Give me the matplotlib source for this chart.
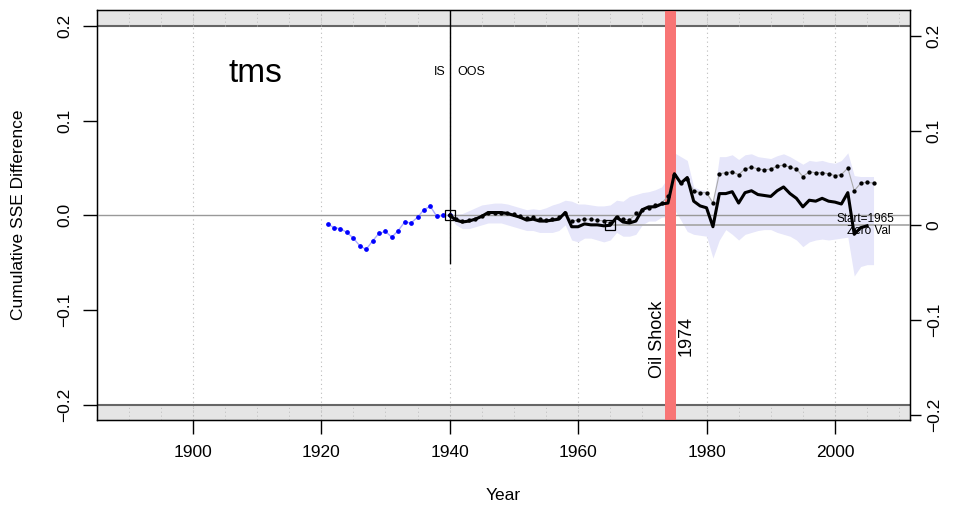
import numpy as np
import matplotlib
matplotlib.use("Agg")
import matplotlib.pyplot as plt

plt.rcParams['font.family'] = ['Liberation Sans', 'DejaVu Sans']

# ---------------- data ----------------
is_years = list(range(1921, 1941))
is_vals = [-0.009, -0.013, -0.014, -0.018, -0.024, -0.032, -0.036, -0.027, -0.019, -0.017,
           -0.023, -0.016, -0.007, -0.008, -0.002, 0.006, 0.0095, -0.001, 0.000, 0.000]

oos_years = list(range(1940, 2006))
oos_vals = [0.000, -0.005, -0.007, -0.006, -0.004, -0.001, 0.003, 0.003, 0.003, 0.002,
            0.000, -0.002, -0.005, -0.004, -0.006, -0.006, -0.005, -0.004, 0.003, -0.012,
            -0.012, -0.009, -0.010, -0.010, -0.011, -0.0105, -0.002, -0.007, -0.008, -0.006,
            0.006, 0.009, 0.009, 0.012, 0.013, 0.044, 0.034, 0.040, 0.015, 0.010,
            0.008, -0.012, 0.023, 0.023, 0.025, 0.013, 0.024, 0.026, 0.022, 0.021,
            0.020, 0.026, 0.030, 0.023, 0.018, 0.009, 0.016, 0.015, 0.018, 0.015,
            0.014, 0.012, 0.024, -0.020, -0.013, -0.011]

alt_years = list(range(1940, 2007))
alt_vals = [0.000, -0.004, -0.006, -0.005, -0.004, -0.001, 0.003, 0.003, 0.003, 0.003,
            0.001, -0.001, -0.003, -0.002, -0.004, -0.005, -0.004, -0.002, 0.002, -0.006,
            -0.005, -0.004, -0.004, -0.005, -0.006, -0.008, -0.002, -0.004, -0.005, 0.002,
            0.006, 0.008, 0.011, 0.013, 0.020, 0.043, 0.034, 0.038, 0.026, 0.024,
            0.024, 0.013, 0.044, 0.045, 0.046, 0.043, 0.049, 0.051, 0.049, 0.048,
            0.049, 0.052, 0.053, 0.051, 0.049, 0.041, 0.046, 0.045, 0.045, 0.044,
            0.042, 0.043, 0.050, 0.026, 0.034, 0.035, 0.034]

band_years = list(range(1940, 2007))
band_upper = [0.002, 0.001, 0.002, 0.005, 0.008, 0.011, 0.012, 0.013, 0.013, 0.012,
              0.010, 0.008, 0.006, 0.007, 0.006, 0.008, 0.011, 0.013, 0.016, 0.015,
              0.012, 0.012, 0.011, 0.010, 0.010, 0.011, 0.016, 0.015, 0.020, 0.022,
              0.024, 0.025, 0.027, 0.030, 0.040, 0.066, 0.062, 0.058, 0.030, 0.027,
              0.026, 0.014, 0.062, 0.062, 0.064, 0.059, 0.064, 0.065, 0.062, 0.061,
              0.060, 0.063, 0.065, 0.062, 0.058, 0.054, 0.058, 0.057, 0.058, 0.056,
              0.055, 0.058, 0.066, 0.042, 0.041, 0.041, 0.041]
band_lower = [-0.002, -0.010, -0.014, -0.014, -0.012, -0.010, -0.008, -0.008, -0.008, -0.010,
              -0.012, -0.014, -0.016, -0.016, -0.018, -0.018, -0.018, -0.016, -0.010, -0.026,
              -0.028, -0.024, -0.024, -0.026, -0.028, -0.026, -0.018, -0.022, -0.022, -0.020,
              -0.010, -0.006, -0.006, -0.002, -0.001, 0.006, -0.005, -0.017, -0.020, -0.021,
              -0.022, -0.045, -0.026, -0.015, -0.020, -0.026, -0.020, -0.018, -0.016, -0.015,
              -0.015, -0.018, -0.020, -0.022, -0.026, -0.033, -0.028, -0.026, -0.025, -0.026,
              -0.025, -0.024, -0.023, -0.064, -0.054, -0.052, -0.052]

start_year = 1965
zero_val = -0.0105
oos_start = 1940
oil_shock_year = 1974

x_ticks = [1900, 1920, 1940, 1960, 1980, 2000]
y_ticks = [-0.2, -0.1, 0.0, 0.1, 0.2]
y_ticklabels = ["\u22120.2", "\u22120.1", "0.0", "0.1", "0.2"]
r_ticklabels = ["\u22120.2", "\u22120.1", "0", "0.1", "0.2"]

# ---------------- figure ----------------
fig = plt.figure(figsize=(9.56, 5.13), dpi=100)
ax = fig.add_axes([0.1015, 0.1813, 0.8505, 0.7992])
xlim = (1885.1, 2011.7)
ylim = (-0.216, 0.2168)
ax.set_xlim(*xlim)
ax.set_ylim(*ylim)

# grey bands outside +-0.2
ax.axhspan(0.2, ylim[1], color='#E5E5E5', zorder=0, lw=0)
ax.axhspan(ylim[0], -0.2, color='#E5E5E5', zorder=0, lw=0)
ax.axhline(0.2, color='#666666', lw=1.5, zorder=1)
ax.axhline(-0.2, color='#666666', lw=1.5, zorder=1)
for yr in range(1890, 2011, 5):
    ax.plot([yr, yr], [0.2, ylim[1]], color='#BBBBBB', lw=0.7, ls=(0, (1, 3)), zorder=1)
    ax.plot([yr, yr], [ylim[0], -0.2], color='#BBBBBB', lw=0.7, ls=(0, (1, 3)), zorder=1)

# grid
for xt in x_ticks:
    ax.axvline(xt, color='#BBBBBB', lw=0.8, ls=(0, (1, 3)), zorder=1)

# confidence band
ax.fill_between(band_years, band_lower, band_upper, color='#E6E6FA', lw=0, zorder=2)

# zero lines
ax.axhline(0, color='#999999', lw=1.0, zorder=3)
ax.plot([start_year, xlim[1]], [zero_val, zero_val], color='#AAAAAA', lw=1.3, zorder=3,
        clip_on=False)

# oil shock
ax.axvspan(oil_shock_year - 0.4, oil_shock_year + 1.25, color='#F87575', lw=0, zorder=4)
ax.text(oil_shock_year - 1.7, -0.131, "Oil Shock", rotation=90, ha='center', va='center',
        fontsize=13)
ax.text(oil_shock_year + 2.9, -0.127, str(oil_shock_year), rotation=90, ha='center',
        va='center', fontsize=13)

# IS / OOS line
ax.plot([oos_start, oos_start], [-0.05, ylim[1]], color='black', lw=1.0, zorder=5)
ax.text(oos_start - 0.7, 0.151, "IS", ha='right', va='center', fontsize=9)
ax.text(oos_start + 1.2, 0.151, "OOS", ha='left', va='center', fontsize=9)

# in-sample series
ax.plot(is_years, is_vals, color='#AAAAFF', lw=1.0, zorder=5)
ax.plot(is_years, is_vals, ls='none', marker='o', ms=2.4, color='#0000FF', zorder=6)

# alternative (dotted) series
ax.plot(alt_years, alt_vals, color='#AAAAAA', lw=0.8, zorder=5)
ax.plot(alt_years, alt_vals, ls='none', marker='o', ms=2.1, color='black', zorder=6)

# OOS series
ax.plot(oos_years, oos_vals, color='black', lw=2.2, zorder=7)

# squares
ax.plot([oos_start, start_year], [0.0, zero_val], ls='none', marker='s', ms=7,
        mfc='none', mec='black', mew=0.9, zorder=8)

ax.text(2004.7, -0.0035, "Start=%d" % start_year, ha='center', va='center', fontsize=8.5,
        zorder=9)
ax.text(2005.3, -0.0165, "Zero Val", ha='center', va='center', fontsize=8.5, zorder=9)

ax.text(1909.8, 0.150, "tms", ha='center', va='center', fontsize=24)

# axes styling
ax.set_xticks(x_ticks)
ax.set_xticklabels([str(v) for v in x_ticks], fontsize=12.5)
ax.set_yticks(y_ticks)
ax.set_yticklabels(y_ticklabels, fontsize=12.5, rotation=90, va='center')
ax.tick_params(axis='both', direction='out', length=10, width=1, color='black')
ax.tick_params(axis='x', pad=8)
ax.tick_params(axis='y', pad=8)
for s in ax.spines.values():
    s.set_linewidth(1.0)
ax.set_xlabel("Year", fontsize=12.5, labelpad=20)
ax.set_ylabel("Cumulative SSE Difference", fontsize=12.5, labelpad=22)

ax2 = ax.twinx()
ax2.set_ylim(*ylim)
ax2.set_yticks([zero_val + t for t in y_ticks])
ax2.set_yticklabels(r_ticklabels, fontsize=12.5, rotation=90, va='center')
ax2.tick_params(axis='y', direction='out', length=8, width=1, pad=4)

fig.savefig("out.png", dpi=100)
